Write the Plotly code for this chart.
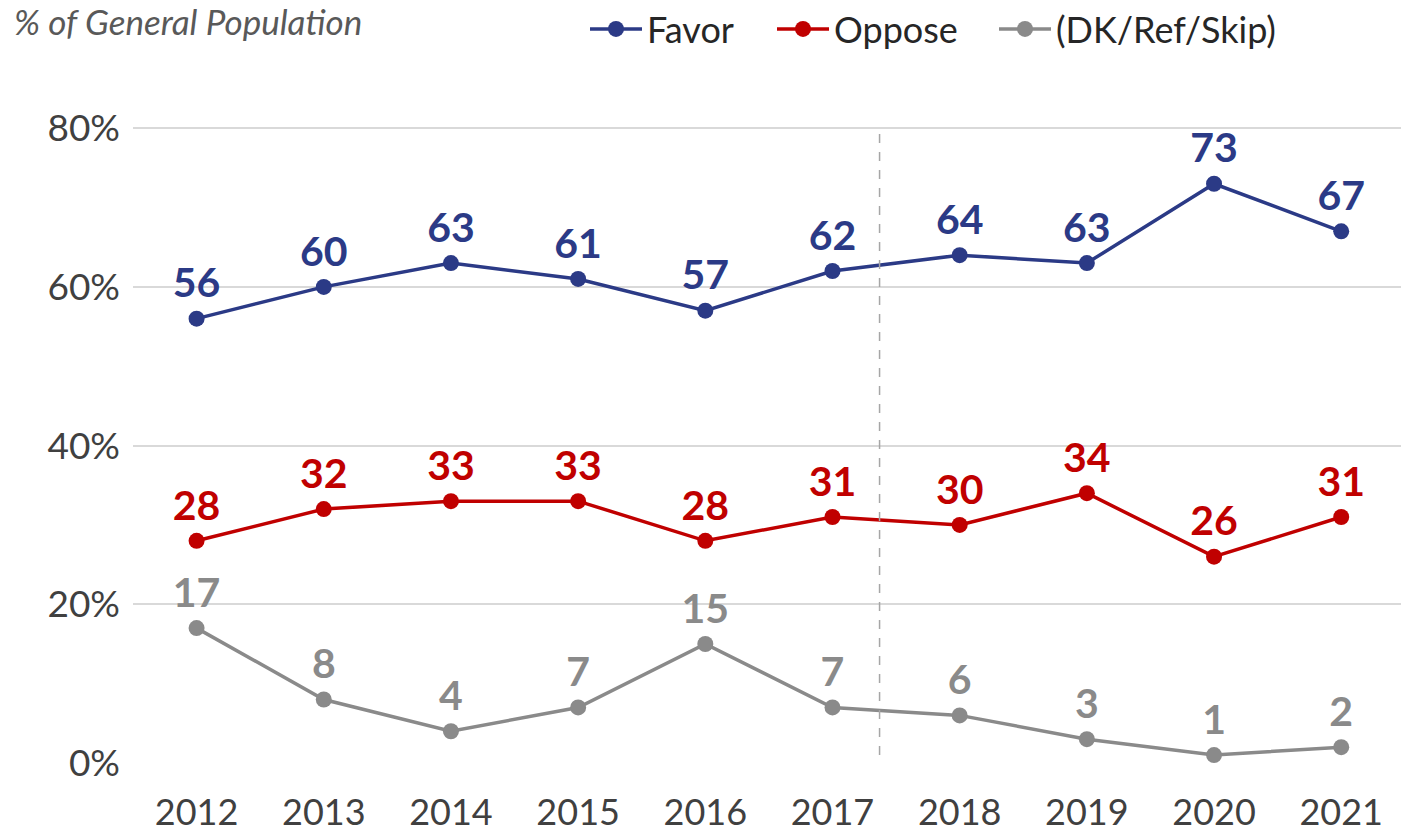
import plotly.graph_objects as go

years = [2012, 2013, 2014, 2015, 2016, 2017, 2018, 2019, 2020, 2021]
favor = [56, 60, 63, 61, 57, 62, 64, 63, 73, 67]
oppose = [28, 32, 33, 33, 28, 31, 30, 34, 26, 31]
dk_ref_skip = [17, 8, 4, 7, 15, 7, 6, 3, 1, 2]

series_names = ["Favor", "Oppose", "(DK/Ref/Skip)"]
series_colors = ["#2B3A86", "#C00000", "#8A8A8A"]
y_ticks = [0, 20, 40, 60, 80]
y_tick_text = ["0%", "20%", "40%", "60%", "80%"]
method_break_x = 2017.37  # survey methodology change between 2017 and 2018

FONT = "Lato"
W, H = 1401, 835
M_L, M_R, M_T, M_B = 133, 0, 127, 72
PLOT_W, PLOT_H = W - M_L - M_R, H - M_T - M_B

# one legend box per series so each entry can sit at its own spot
legend_ids = ["legend", "legend2", "legend3"]
legend_left_px = [585, 772, 994]

fig = go.Figure()
for name, vals, col, lg in zip(series_names, [favor, oppose, dk_ref_skip], series_colors, legend_ids):
    fig.add_trace(go.Scatter(
        x=years, y=vals, name=name, legend=lg,
        mode="lines+markers+text",
        line=dict(color=col, width=3.5),
        marker=dict(color=col, size=16),
        text=[str(v) for v in vals],
        textposition="top center",
        textfont=dict(family=FONT, size=41, color=col, weight="bold"),
        cliponaxis=False,
        hoverinfo="skip",
    ))

fig.add_shape(type="line", xref="x", yref="y",
              x0=method_break_x, x1=method_break_x, y0=1.0, y1=79.3,
              line=dict(color="#A6A6A6", width=1.5, dash="dash"))

fig.add_annotation(text="<i>% of General Population</i>", xref="paper", yref="paper",
                   x=(12 - M_L) / PLOT_W, y=(H - M_B - 21) / PLOT_H,
                   xanchor="left", yanchor="middle", showarrow=False,
                   font=dict(family=FONT, size=35, color="#595959"))

legend_style = dict(orientation="h", xref="container", yref="container",
                    xanchor="left", yanchor="middle", y=1 - 29 / H,
                    font=dict(family=FONT, size=36, color="#262626"),
                    itemwidth=52, bgcolor="rgba(0,0,0,0)")
legends = {lg: dict(legend_style, x=px / W) for lg, px in zip(legend_ids, legend_left_px)}

fig.update_layout(
    width=W, height=H,
    margin=dict(l=M_L, r=M_R, t=M_T, b=M_B, autoexpand=False),
    paper_bgcolor="white", plot_bgcolor="white",
    showlegend=True,
    **legends,
    xaxis=dict(range=[2011.5, 2021.47], tickmode="array", tickvals=years,
               ticktext=[str(y) for y in years], showgrid=False, zeroline=False,
               showline=False, ticks="", ticklabelstandoff=25,
               tickfont=dict(family=FONT, size=36, color="#404040")),
    yaxis=dict(range=[0, 80.15], tickmode="array", tickvals=y_ticks, ticktext=y_tick_text,
               showgrid=True, gridcolor="#D9D9D9", gridwidth=2, zeroline=False,
               showline=False, ticks="", ticklabelstandoff=12,
               tickfont=dict(family=FONT, size=37, color="#404040")),
)

fig.write_html("out.html")
